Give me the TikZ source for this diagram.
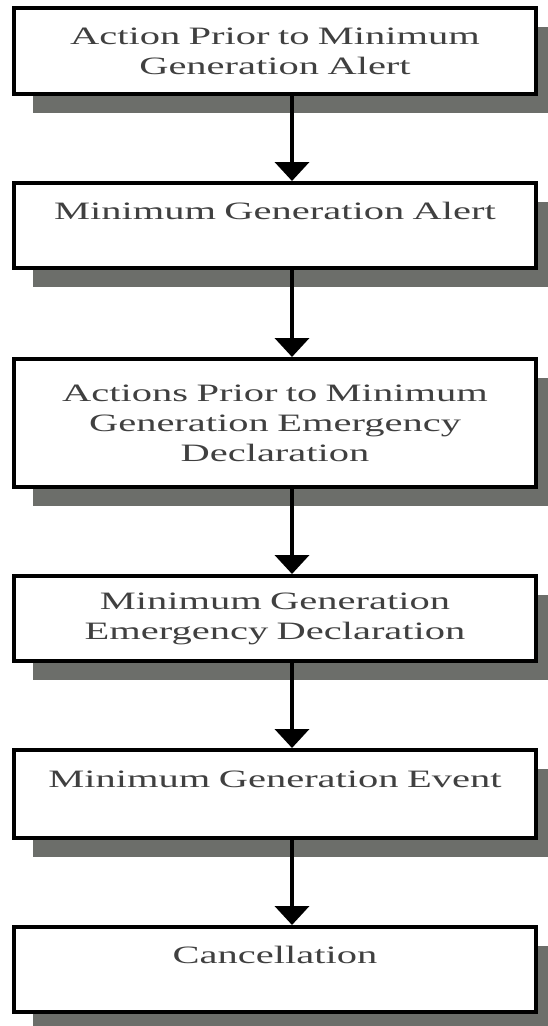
\documentclass[tikz,border=0pt]{standalone}
\usepackage{fontspec}
\setmainfont{Liberation Serif}[FakeStretch=1.62]
\usetikzlibrary{arrows.meta,positioning,shadows}
\definecolor{shadowgray}{RGB}{108,110,106}
\definecolor{textgray}{RGB}{64,64,64}

\begin{document}
\begin{tikzpicture}[x=1pt,y=1pt,
		stage/.style={draw, line width=4pt, fill=white, minimum width=522pt, text width=500pt, align=center,
			font=\fontsize{25}{30}\selectfont, text=textgray,
			drop shadow={shadow xshift=19pt, shadow yshift=-19pt, opacity=1, fill=shadowgray}},
		flow/.style={line width=4pt, -{Triangle[width=34pt,length=19pt]}},
		node distance=85pt]
		\useasboundingbox (0,0) rectangle (548,-1026);
		\node[stage, minimum height=86pt, anchor=north] (prioralert) at (275,-6) {Action Prior to Minimum\\Generation Alert};
		\node[stage, minimum height=85pt, below=of prioralert] (alert) {Minimum Generation Alert\\~};
		\node[stage, minimum height=128pt, below=87pt of alert] (priordecl) {Actions Prior to Minimum\\Generation Emergency\\Declaration};
		\node[stage, minimum height=85pt, below=of priordecl] (decl) {Minimum Generation\\Emergency Declaration};
		\node[stage, minimum height=88pt, below=of decl] (event) {Minimum Generation Event\\~};
		\node[stage, minimum height=85pt, below=of event] (cancel) {Cancellation\\~};
		\draw[flow] ([xshift=17pt]prioralert.south) -- ([xshift=17pt]alert.north);
		\draw[flow] ([xshift=17pt]alert.south) -- ([xshift=17pt]priordecl.north);
		\draw[flow] ([xshift=17pt]priordecl.south) -- ([xshift=17pt]decl.north);
		\draw[flow] ([xshift=17pt]decl.south) -- ([xshift=17pt]event.north);
		\draw[flow] ([xshift=17pt]event.south) -- ([xshift=17pt]cancel.north);
	\end{tikzpicture}
\end{document}
